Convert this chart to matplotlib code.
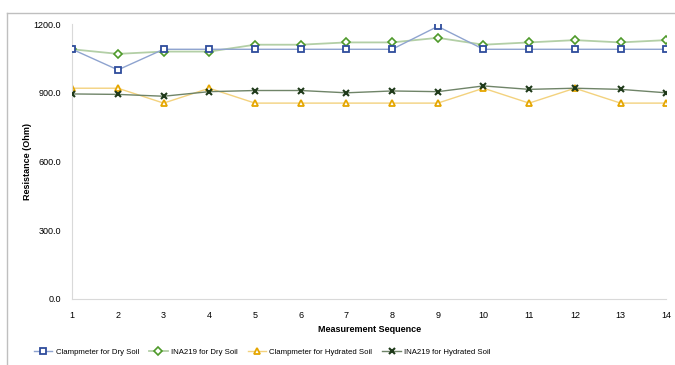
import matplotlib.pyplot as plt
from matplotlib.lines import Line2D

plt.rcParams['font.family'] = ['Liberation Sans Narrow', 'Liberation Sans', 'DejaVu Sans']

seq = list(range(1, 15))
clamp_dry = [1090, 1000, 1090, 1090, 1090, 1090, 1090, 1090, 1190, 1090, 1090, 1090, 1090, 1090]
ina_dry = [1090, 1070, 1080, 1080, 1110, 1110, 1120, 1120, 1140, 1110, 1120, 1130, 1120, 1130]
clamp_wet = [920, 920, 855, 920, 855, 855, 855, 855, 855, 920, 855, 920, 855, 855]
ina_wet = [895, 893, 885, 905, 910, 910, 900, 908, 905, 930, 915, 920, 915, 900]
yticks = [0, 300, 600, 900, 1200]

fig = plt.figure(figsize=(6.75, 3.65), dpi=100)
ax = fig.add_axes([0.107, 0.181, 0.88, 0.753])

ax.plot(seq, clamp_dry, color='#8EA3CF', lw=1.0, marker='s', ms=5,
        mfc='white', mec='#2E4C9C', mew=1.3, label='Clampmeter for Dry Soil', zorder=3)
ax.plot(seq, ina_dry, color='#B3CFA6', lw=1.3, marker='D', ms=4.3,
        mfc='white', mec='#4E9A2A', mew=1.2, label='INA219 for Dry Soil', zorder=2)
ax.plot(seq, clamp_wet, color='#F3D27E', lw=1.0, marker='^', ms=5,
        mfc='white', mec='#E5A600', mew=1.3, label='Clampmeter for Hydrated Soil', zorder=2)
ax.plot(seq, ina_wet, color='#6F8468', lw=1.0, marker='x', ms=5,
        mec='#1F3A1A', mew=1.5, label='INA219 for Hydrated Soil', zorder=3)

ax.set_xlim(1, 14)
ax.set_ylim(0, 1200)
ax.set_xticks(seq)
ax.set_yticks(yticks)
ax.set_yticklabels([f'{v:.1f}' for v in yticks])
ax.tick_params(axis='y', length=0, labelsize=6.5, pad=8)
ax.tick_params(axis='x', length=0, labelsize=6.5, pad=9)
for s in ['top', 'right']:
    ax.spines[s].set_visible(False)
for s in ['left', 'bottom']:
    ax.spines[s].set_color('#D9D9D9')
ax.set_xlabel('Measurement Sequence', fontsize=6.5, fontweight='bold', labelpad=3)
ax.set_ylabel('Resistance (Ohm)', fontsize=6.5, fontweight='bold', labelpad=1)

ax.legend(loc='upper center', bbox_to_anchor=(0.32, -0.155), ncol=4, frameon=False,
          fontsize=5.6, handlelength=2.4, columnspacing=1.3, handletextpad=0.4)

# outer frame lines (top and left)
fig.add_artist(Line2D([0.011, 1.0], [0.964, 0.964], color='#BFBFBF', lw=1.0))
fig.add_artist(Line2D([0.011, 0.011], [0.0, 0.964], color='#BFBFBF', lw=1.0))

fig.savefig('out.png', dpi=100)
